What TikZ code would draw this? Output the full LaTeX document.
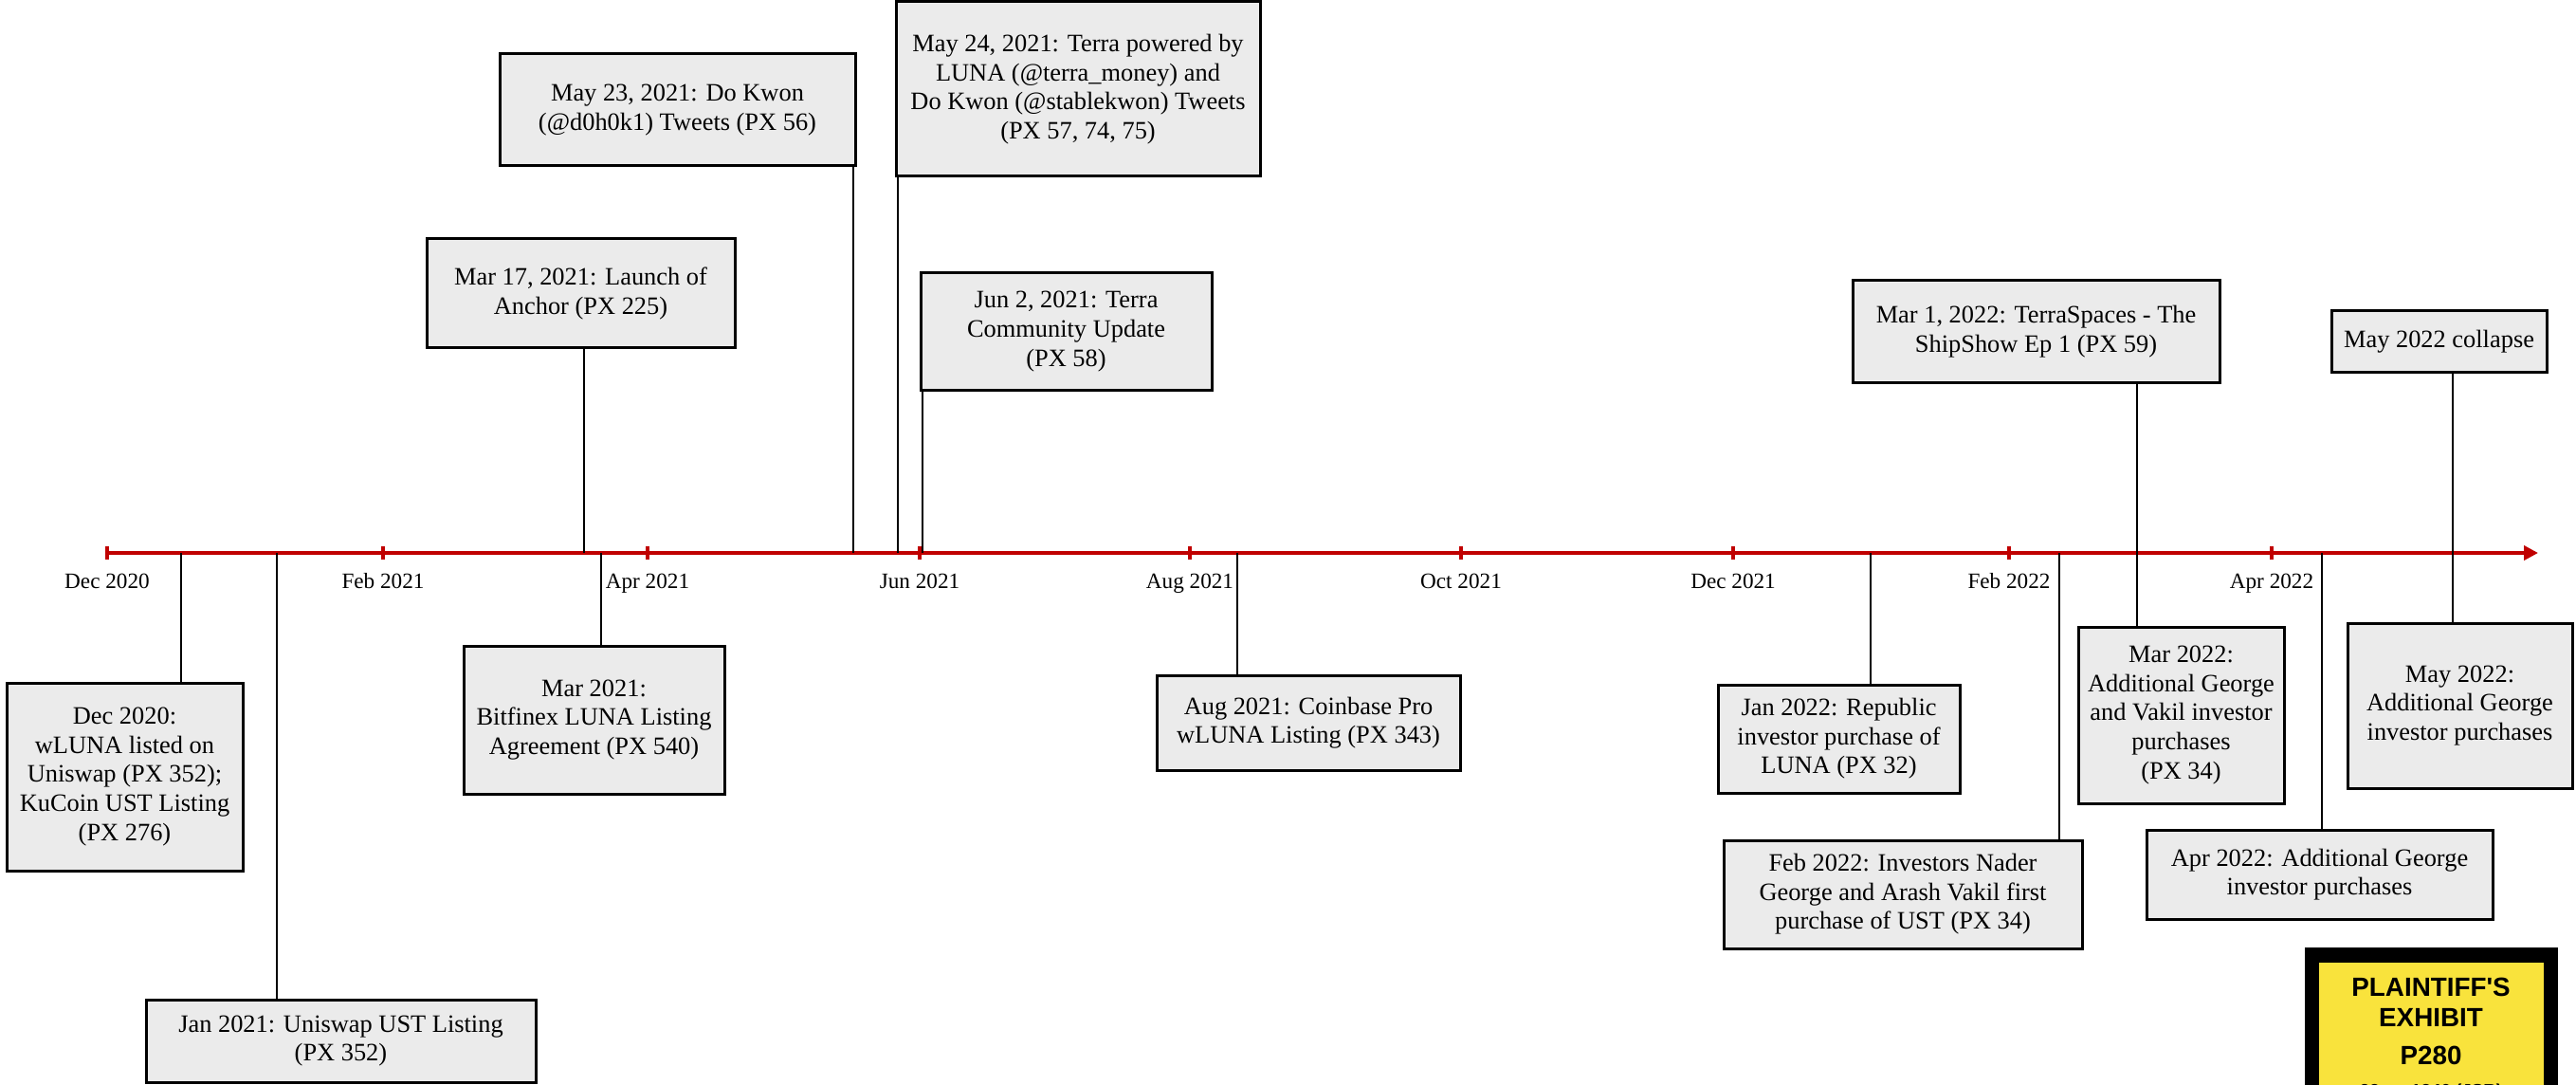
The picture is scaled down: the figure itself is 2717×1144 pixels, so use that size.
\documentclass[tikz,border=0pt]{standalone}
\usepackage{fontspec}
\setmainfont{Liberation Serif}
\newfontfamily\exfont{Liberation Sans}
\usetikzlibrary{arrows.meta}
\definecolor{boxgray}{HTML}{EBEBEB}
\definecolor{axred}{HTML}{C00000}
\definecolor{exyellow}{HTML}{F9E33C}
\newcommand{\evbox}[6]{%
  \pgfmathsetmacro{\evw}{(#4-#2)/2}%
  \pgfmathsetmacro{\evh}{(#5-#3)/2}%
  \node[evt, minimum width=\evw pt, minimum height=\evh pt] (#1) at ({(#2+#4)/2},{(#3+#5)/2}) {#6};}
\begin{document}
\begin{tikzpicture}[x=0.5pt,y=-0.5pt,
  evt/.style={draw=black, line width=1.5pt, fill=boxgray, inner sep=0pt, outer sep=0pt, align=center,
    font=\fontsize{13.2pt}{15.3pt}\selectfont},
  conn/.style={draw=black, line width=1.1pt},
  axisline/.style={draw=axred, line width=2.2pt},
  tickmark/.style={draw=axred, line width=1.6pt},
  ticklab/.style={anchor=base, inner sep=0pt, font=\fontsize{11.6pt}{13pt}\selectfont},
  exlab/.style={anchor=base, inner sep=0pt, font=\exfont\bfseries\fontsize{13.9pt}{16pt}\selectfont}]
\useasboundingbox (0,0) rectangle (2717,1144);
\clip (0,0) rectangle (2717,1144);
\fill[white] (0,0) rectangle (2717,1144);

% axis
\coordinate (axstart) at (113,583);
\coordinate (axend) at (2677,583);
\draw[axisline,-{Triangle[length=7.5pt,width=7.5pt]}] (axstart) -- (axend);
\foreach \x/\l in {113/Dec 2020, 404/Feb 2021, 683/Apr 2021, 970/Jun 2021, 1255/Aug 2021,
  1541/Oct 2021, 1828/Dec 2021, 2119/Feb 2022, 2396/Apr 2022}{
  \draw[tickmark] (\x,576) -- (\x,590);
  \node[ticklab] (t\x) at (\x,620) {\l};
}

% event boxes
\evbox{dec20}{7}{720}{256}{918}{Dec 2020:\\wLUNA listed on\\Uniswap (PX 352);\\KuCoin UST Listing\\(PX 276)}
\evbox{jan21}{154}{1054}{565}{1141}{Jan 2021: Uniswap UST Listing\\(PX 352)}
\evbox{mar21}{489}{681}{764}{837}{Mar 2021:\\Bitfinex LUNA Listing\\Agreement (PX 540)}
\evbox{mar17}{450}{252}{775}{367}{Mar 17, 2021: Launch of\\Anchor (PX 225)}
\evbox{may23}{527}{57}{902}{175}{May 23, 2021: Do Kwon\\(@d0h0k1) Tweets (PX 56)}
\evbox{may24}{945}{2}{1329}{186}{May 24, 2021: Terra powered by\\LUNA (@terra\_money) and\\Do Kwon (@stablekwon) Tweets\\(PX 57, 74, 75)}
\evbox{jun2}{971}{288}{1278}{411}{Jun 2, 2021: Terra\\Community Update\\(PX 58)}
\evbox{aug21}{1220}{712}{1540}{812}{Aug 2021: Coinbase Pro\\wLUNA Listing (PX 343)}
\evbox{jan22}{1812}{722}{2067}{836}{Jan 2022: Republic\\investor purchase of\\LUNA (PX 32)}
\evbox{feb22}{1818}{886}{2196}{1000}{Feb 2022: Investors Nader\\George and Arash Vakil first\\purchase of UST (PX 34)}
\evbox{mar1}{1954}{296}{2341}{403}{Mar 1, 2022: TerraSpaces - The\\ShipShow Ep 1 (PX 59)}
\evbox{mar22}{2192}{661}{2409}{847}{Mar 2022:\\Additional George\\and Vakil investor\\purchases\\(PX 34)}
\evbox{apr22}{2264}{875}{2629}{969}{Apr 2022: Additional George\\investor purchases}
\evbox{maycol}{2459}{328}{2686}{392}{May 2022 collapse}
\evbox{may22}{2476}{657}{2713}{831}{May 2022:\\Additional George\\investor purchases}

% connectors
\coordinate (c1) at (191,583);
\coordinate (c2) at (292,583);
\coordinate (c3) at (634,583);
\coordinate (c4) at (616,583);
\coordinate (c5) at (900,583);
\coordinate (c6) at (947,583);
\coordinate (c7) at (973,583);
\coordinate (c8) at (1305,583);
\coordinate (c9) at (1973,583);
\coordinate (c10) at (2172,583);
\coordinate (c11) at (2254,583);
\coordinate (c13) at (2449,583);
\coordinate (c14) at (2587,583);
\draw[conn] (c1) -- (c1 |- dec20.north);
\draw[conn] (c2) -- (c2 |- jan21.north);
\draw[conn] (c3) -- (c3 |- mar21.north);
\draw[conn] (c4) -- (c4 |- mar17.south);
\draw[conn] (c5) -- (c5 |- may23.south);
\draw[conn] (c6) -- (c6 |- may24.south);
\draw[conn] (c7) -- (c7 |- jun2.south);
\draw[conn] (c8) -- (c8 |- aug21.north);
\draw[conn] (c9) -- (c9 |- jan22.north);
\draw[conn] (c10) -- (c10 |- feb22.north);
\draw[conn] (c11 |- mar1.south) -- (c11 |- mar22.north);
\draw[conn] (c13) -- (c13 |- apr22.north);
\draw[conn] (c14 |- maycol.south) -- (c14 |- may22.north);

% exhibit sticker
\fill[black] (2431,999) rectangle (2698,1170);
\fill[exyellow] (2446,1015) rectangle (2683,1170);
\node[exlab] (ex1) at (2564,1050) {PLAINTIFF'S};
\node[exlab] (ex2) at (2564,1082) {EXHIBIT};
\node[exlab] (ex3) at (2564,1122) {P280};
\node[anchor=base, inner sep=0pt, font=\exfont\bfseries\fontsize{9.4pt}{11pt}\selectfont] (ex4) at (2564,1156) {23-cv-1346 (JSR)};
\end{tikzpicture}
\end{document}
